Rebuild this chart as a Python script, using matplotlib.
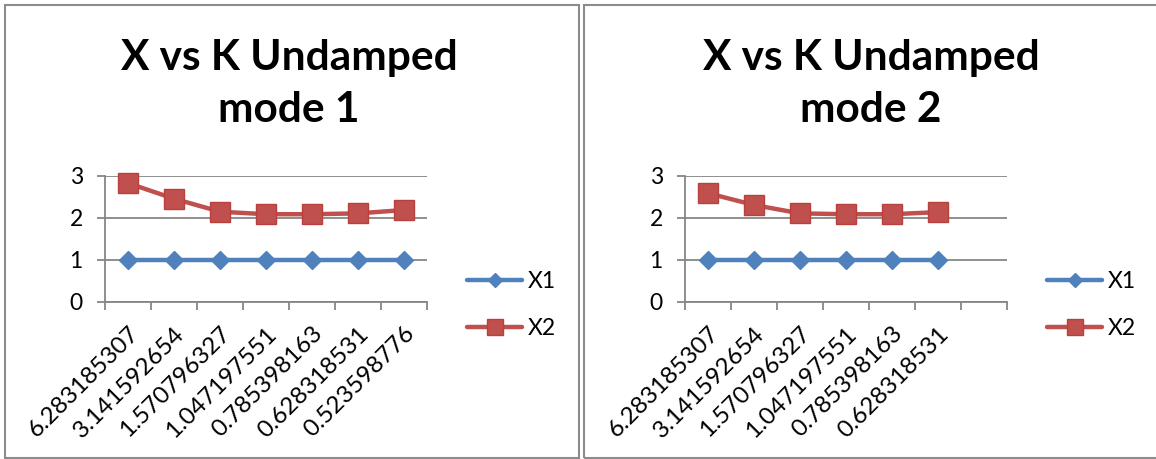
import matplotlib
matplotlib.use("Agg")
import matplotlib.pyplot as plt
import matplotlib.transforms as mtransforms
from matplotlib.patches import Rectangle
import numpy as np

# ---- data ----
k_labels_mode1 = ["6.283185307", "3.141592654", "1.570796327", "1.047197551",
                  "0.785398163", "0.628318531", "0.523598776"]
x1_mode1 = [1, 1, 1, 1, 1, 1, 1]
x2_mode1 = [2.83, 2.46, 2.15, 2.09, 2.09, 2.11, 2.19]

k_labels_mode2 = ["6.283185307", "3.141592654", "1.570796327", "1.047197551",
                  "0.785398163", "0.628318531", ""]
x1_mode2 = [1, 1, 1, 1, 1, 1, np.nan]
x2_mode2 = [2.59, 2.31, 2.11, 2.09, 2.09, 2.14, np.nan]

title_line1 = "X vs K Undamped"
title_line2 = ["mode 1", "mode 2"]
series_names = ["X1", "X2"]
y_ticks = [0, 1, 2, 3]

BLUE = "#4F81BD"
RED = "#C0504D"
GRID = "#868686"
FONT = "Lato"

W, H = 1156, 459
plt.rcParams["font.family"] = [FONT, "DejaVu Sans"]
fig = plt.figure(figsize=(W / 100, H / 100), dpi=100)


def px_box(x0, y0, x1, y1):
    return [x0 / W, 1 - y1 / H, (x1 - x0) / W, (y1 - y0) / H]


# chart borders
for (bx0, by0, bx1, by1) in [(5, 5, 579, 458), (584, 5, 1170, 458)]:
    fig.patches.append(Rectangle((bx0 / W, 1 - by1 / H), (bx1 - bx0) / W, (by1 - by0) / H,
                                 transform=fig.transFigure, fill=False,
                                 edgecolor="#8c8c8c", linewidth=1.5, clip_on=False))

charts = [
    dict(box=(105, 176, 427, 302), labels=k_labels_mode1, x1=x1_mode1, x2=x2_mode1,
         title2=title_line2[0], tx=289, legx=467),
    dict(box=(685, 176, 1007, 302), labels=k_labels_mode2, x1=x1_mode2, x2=x2_mode2,
         title2=title_line2[1], tx=871, legx=1047),
]

for c in charts:
    ax = fig.add_axes(px_box(*c["box"]))
    n = len(c["labels"])
    pos = np.arange(n) + 0.5
    ax.plot(pos, c["x1"], color=BLUE, lw=3.2, marker="D", ms=9.5,
            markerfacecolor=BLUE, markeredgecolor=BLUE, label=series_names[0],
            solid_capstyle="round", clip_on=False, zorder=3)
    ax.plot(pos, c["x2"], color=RED, lw=3.2, marker="s", ms=14,
            markerfacecolor=RED, markeredgecolor="#b8403d", markeredgewidth=1,
            label=series_names[1], solid_capstyle="round", clip_on=False, zorder=3)
    ax.set_xlim(0, n)
    ax.set_ylim(0, 3)
    ax.set_yticks(y_ticks)
    ax.set_xticks(np.arange(n + 1))
    ax.set_xticklabels([])
    ax.set_xticks(pos, minor=True)
    ax.set_xticklabels(c["labels"], minor=True, rotation=45, ha="right",
                       va="top", rotation_mode="anchor", fontsize=17.5)
    offset = mtransforms.ScaledTranslation(2 / 100, 0, fig.dpi_scale_trans)
    for lab in ax.get_xticklabels(minor=True):
        lab.set_transform(lab.get_transform() + offset)
    ax.tick_params(axis="x", which="minor", length=0, pad=15)
    ax.tick_params(axis="x", which="major", length=6, width=1.3, color=GRID)
    ax.tick_params(axis="y", length=6, width=1.3, color=GRID, labelsize=16.5, pad=10)
    ax.yaxis.grid(True, color=GRID, lw=1.3)
    ax.set_axisbelow(True)
    for s in ["top", "right"]:
        ax.spines[s].set_visible(False)
    for s in ["left", "bottom"]:
        ax.spines[s].set_color(GRID)
        ax.spines[s].set_linewidth(1.3)
    fig.text(c["tx"] / W, 1 - 70 / H, title_line1, ha="center", va="baseline",
             fontsize=30.5, fontweight="bold")
    fig.text(c["tx"] / W, 1 - 122 / H, c["title2"], ha="center", va="baseline",
             fontsize=30.5, fontweight="bold")
    ax.legend(loc="center left", bbox_to_anchor=(c["legx"] / W, 1 - 305 / H),
              bbox_transform=fig.transFigure, frameon=False, fontsize=16.5,
              handlelength=2.4, handletextpad=0.25, labelspacing=1.1,
              markerscale=0.8, borderpad=0, borderaxespad=0)

fig.savefig("out.png", dpi=100)
